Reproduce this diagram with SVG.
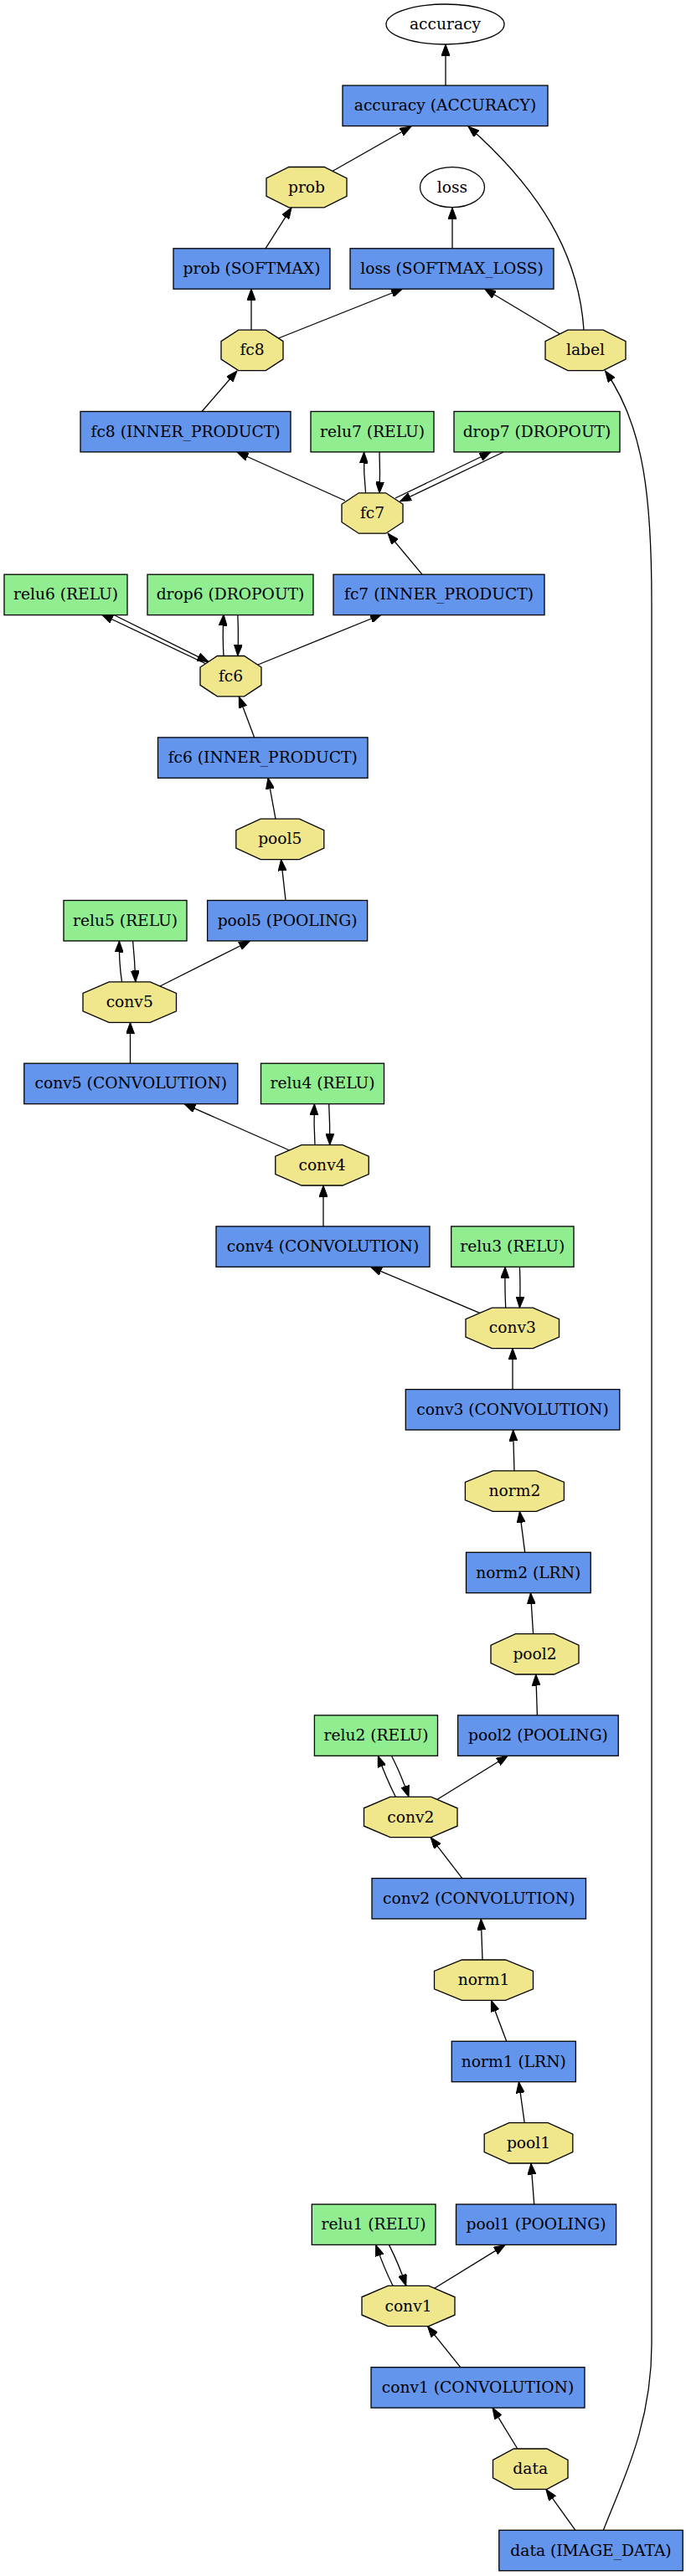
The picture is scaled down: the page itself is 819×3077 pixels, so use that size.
<svg xmlns="http://www.w3.org/2000/svg" width="819" height="3077" viewBox="0 0 819 3077">
<style>
.op{fill:#6495ed;stroke:#000;stroke-width:1.3}
.act{fill:#90ee90;stroke:#000;stroke-width:1.3}
.blob{fill:#f0e68c;stroke:#000;stroke-width:1.3}
.out{fill:#fff;stroke:#000;stroke-width:1.3}
text{font-family:"DejaVu Serif","Liberation Serif",serif;font-size:18.67px;text-anchor:middle;fill:#000}
.e{fill:none;stroke:#000;stroke-width:1.3}
</style>
<defs>
<marker id="ah" markerUnits="userSpaceOnUse" markerWidth="14" markerHeight="10" refX="13.5" refY="5" orient="auto">
<path d="M0,0 L13.5,5 L0,10 z" fill="#000" stroke="#000" stroke-width="1"/>
</marker>
</defs>
<rect x="0" y="0" width="819" height="3077" fill="#fff"/>
<g id="connectors">
<path class="e" marker-end="url(#ah)" d="M532,102.1 L532,53"/>
<path class="e" marker-end="url(#ah)" d="M396,205 L491,151"/>
<path class="e" marker-end="url(#ah)" d="M697,394 C692,320 660,240 559,151"/>
<path class="e" marker-end="url(#ah)" d="M317,296.8 L348,248"/>
<path class="e" marker-end="url(#ah)" d="M540,296.8 L540,248"/>
<path class="e" marker-end="url(#ah)" d="M300,394.2 L300,345"/>
<path class="e" marker-end="url(#ah)" d="M332.5,404 L480.6,345"/>
<path class="e" marker-end="url(#ah)" d="M668.6,399 L578.5,345"/>
<path class="e" marker-end="url(#ah)" d="M241,491.5 L283,443"/>
<path class="e" marker-end="url(#ah)" d="M720.4,3022.3 C740,2970 778,2900 778,2800 L778,720 C778,600 770,510 722.5,443"/>
<path class="e" marker-end="url(#ah)" d="M412,598 L283,540"/>
<path class="e" marker-end="url(#ah)" d="M436.6,589 Q434,565 434.6,540"/>
<path class="e" marker-end="url(#ah)" d="M453,540 Q454,565 453,589"/>
<path class="e" marker-end="url(#ah)" d="M472,595 L586,540"/>
<path class="e" marker-end="url(#ah)" d="M601,540 L477.5,599"/>
<path class="e" marker-end="url(#ah)" d="M504,686.2 L463,637"/>
<path class="e" marker-end="url(#ah)" d="M246,793 L121.5,734"/>
<path class="e" marker-end="url(#ah)" d="M135,734 L249,790.7"/>
<path class="e" marker-end="url(#ah)" d="M267,783.5 Q265.5,758 267,734"/>
<path class="e" marker-end="url(#ah)" d="M283.8,734 Q285,758 283.8,783.5"/>
<path class="e" marker-end="url(#ah)" d="M308,794 L455.5,734"/>
<path class="e" marker-end="url(#ah)" d="M303.7,880.9 L285.3,832"/>
<path class="e" marker-end="url(#ah)" d="M329,978.2 L320,929"/>
<path class="e" marker-end="url(#ah)" d="M341,1075.5 L335.6,1026.6"/>
<path class="e" marker-end="url(#ah)" d="M145.5,1172.9 Q142,1150 142.4,1124"/>
<path class="e" marker-end="url(#ah)" d="M158.6,1124 Q161,1148 161.8,1172.9"/>
<path class="e" marker-end="url(#ah)" d="M191,1178 L298.4,1124"/>
<path class="e" marker-end="url(#ah)" d="M155.5,1270.2 L155.5,1221.3"/>
<path class="e" marker-end="url(#ah)" d="M345.5,1374 L220,1318.6"/>
<path class="e" marker-end="url(#ah)" d="M376,1367.6 Q374.5,1343 375.4,1318.6"/>
<path class="e" marker-end="url(#ah)" d="M392.7,1318.6 Q394,1343 393.7,1367.6"/>
<path class="e" marker-end="url(#ah)" d="M386,1464.9 L386,1416"/>
<path class="e" marker-end="url(#ah)" d="M573.3,1568.7 L442.4,1513.3"/>
<path class="e" marker-end="url(#ah)" d="M603.7,1562.2 Q602.5,1538 603.1,1513.3"/>
<path class="e" marker-end="url(#ah)" d="M620.4,1513.3 Q621.5,1538 620.4,1562.2"/>
<path class="e" marker-end="url(#ah)" d="M612,1659.6 L612,1610.6"/>
<path class="e" marker-end="url(#ah)" d="M614,1756.9 L612.6,1708"/>
<path class="e" marker-end="url(#ah)" d="M626.7,1854.3 L620.4,1805.3"/>
<path class="e" marker-end="url(#ah)" d="M636.6,1951.6 L633.5,1902.7"/>
<path class="e" marker-end="url(#ah)" d="M641.4,2048.9 L639.8,2000"/>
<path class="e" marker-end="url(#ah)" d="M472.3,2146.3 Q461,2124 451.3,2097.3"/>
<path class="e" marker-end="url(#ah)" d="M467.5,2097.3 Q479,2120 488,2146.3"/>
<path class="e" marker-end="url(#ah)" d="M521.5,2149.7 L606.3,2097.3"/>
<path class="e" marker-end="url(#ah)" d="M551.8,2243.6 L514.1,2194.7"/>
<path class="e" marker-end="url(#ah)" d="M576,2341 L574.3,2292"/>
<path class="e" marker-end="url(#ah)" d="M604.7,2438.3 L586.4,2389.4"/>
<path class="e" marker-end="url(#ah)" d="M626.2,2535.6 L619.4,2486.7"/>
<path class="e" marker-end="url(#ah)" d="M637.7,2633 L634,2584"/>
<path class="e" marker-end="url(#ah)" d="M469,2730.3 Q458,2708 448.7,2681.4"/>
<path class="e" marker-end="url(#ah)" d="M464.4,2681.4 Q476,2704 484.8,2730.3"/>
<path class="e" marker-end="url(#ah)" d="M518.8,2733.3 L603.1,2681.4"/>
<path class="e" marker-end="url(#ah)" d="M549.7,2827.7 L510.5,2778.7"/>
<path class="e" marker-end="url(#ah)" d="M617.8,2925 L588,2876.1"/>
<path class="e" marker-end="url(#ah)" d="M687,3022.3 L651.8,2973.4"/>
</g>
<g id="accuracy"><ellipse class="out" cx="531.5" cy="29" rx="70.5" ry="24"/><text x="531.5" y="35">accuracy</text></g>
<g id="accuracy_layer"><rect class="op" x="409" y="102.1" width="245" height="48.4"/><text x="531.5" y="132.3">accuracy (ACCURACY)</text></g>
<g id="prob"><polygon class="blob" points="344.9,199.5 387.1,199.5 414,213 414,234.4 387.1,247.9 344.9,247.9 318,234.4 318,213"/><text x="366" y="229.7">prob</text></g>
<g id="loss"><ellipse class="out" cx="540" cy="223.7" rx="38.5" ry="24"/><text x="540" y="229.7">loss</text></g>
<g id="prob_layer"><rect class="op" x="207" y="296.8" width="187" height="48.4"/><text x="300.5" y="327">prob (SOFTMAX)</text></g>
<g id="loss_layer"><rect class="op" x="418" y="296.8" width="243" height="48.4"/><text x="539.5" y="327">loss (SOFTMAX_LOSS)</text></g>
<g id="fc8"><polygon class="blob" points="284.7,394.2 317.3,394.2 338,407.7 338,429.1 317.3,442.6 284.7,442.6 264,429.1 264,407.7"/><text x="301" y="424.4">fc8</text></g>
<g id="label"><polygon class="blob" points="677.9,394.2 720.1,394.2 747,407.7 747,429.1 720.1,442.6 677.9,442.6 651,429.1 651,407.7"/><text x="699" y="424.4">label</text></g>
<g id="fc8_layer"><rect class="op" x="96" y="491.5" width="251" height="48.4"/><text x="221.5" y="521.7">fc8 (INNER_PRODUCT)</text></g>
<g id="relu7_layer"><rect class="act" x="371" y="491.5" width="147" height="48.4"/><text x="444.5" y="521.7">relu7 (RELU)</text></g>
<g id="drop7_layer"><rect class="act" x="542" y="491.5" width="198" height="48.4"/><text x="641" y="521.7">drop7 (DROPOUT)</text></g>
<g id="fc7"><polygon class="blob" points="428.4,588.8 460.6,588.8 481,602.3 481,623.7 460.6,637.2 428.4,637.2 408,623.7 408,602.3"/><text x="444.5" y="619">fc7</text></g>
<g id="relu6_layer"><rect class="act" x="5" y="686.2" width="147" height="48.4"/><text x="78.5" y="716.4">relu6 (RELU)</text></g>
<g id="drop6_layer"><rect class="act" x="176" y="686.2" width="198" height="48.4"/><text x="275" y="716.4">drop6 (DROPOUT)</text></g>
<g id="fc7_layer"><rect class="op" x="398" y="686.2" width="252" height="48.4"/><text x="524" y="716.4">fc7 (INNER_PRODUCT)</text></g>
<g id="fc6"><polygon class="blob" points="259.4,783.5 291.6,783.5 312,797 312,818.4 291.6,831.9 259.4,831.9 239,818.4 239,797"/><text x="275.5" y="813.7">fc6</text></g>
<g id="fc6_layer"><rect class="op" x="188.5" y="880.9" width="250.5" height="48.4"/><text x="313.7" y="911.1">fc6 (INNER_PRODUCT)</text></g>
<g id="pool5"><polygon class="blob" points="311.2,978.2 357.4,978.2 386.8,991.7 386.8,1013.1 357.4,1026.6 311.2,1026.6 281.8,1013.1 281.8,991.7"/><text x="334.3" y="1008.4">pool5</text></g>
<g id="relu5_layer"><rect class="act" x="76" y="1075.5" width="147" height="48.4"/><text x="149.5" y="1105.7">relu5 (RELU)</text></g>
<g id="pool5_layer"><rect class="op" x="247.6" y="1075.5" width="191" height="48.4"/><text x="343.1" y="1105.7">pool5 (POOLING)</text></g>
<g id="conv5"><polygon class="blob" points="130.2,1172.9 179.2,1172.9 210.5,1186.4 210.5,1207.8 179.2,1221.3 130.2,1221.3 99,1207.8 99,1186.4"/><text x="154.7" y="1203.1">conv5</text></g>
<g id="conv5_layer"><rect class="op" x="28.8" y="1270.2" width="255" height="48.4"/><text x="156.3" y="1300.4">conv5 (CONVOLUTION)</text></g>
<g id="relu4_layer"><rect class="act" x="311.5" y="1270.2" width="147" height="48.4"/><text x="385" y="1300.4">relu4 (RELU)</text></g>
<g id="conv4"><polygon class="blob" points="360,1367.6 409,1367.6 440.2,1381.1 440.2,1402.5 409,1416 360,1416 328.8,1402.5 328.8,1381.1"/><text x="384.5" y="1397.8">conv4</text></g>
<g id="conv4_layer"><rect class="op" x="258" y="1464.9" width="255" height="48.4"/><text x="385.5" y="1495.1">conv4 (CONVOLUTION)</text></g>
<g id="relu3_layer"><rect class="act" x="538.7" y="1464.9" width="146.3" height="48.4"/><text x="611.8" y="1495.1">relu3 (RELU)</text></g>
<g id="conv3"><polygon class="blob" points="587.3,1562.2 636.3,1562.2 667.5,1575.7 667.5,1597.1 636.3,1610.6 587.3,1610.6 556,1597.1 556,1575.7"/><text x="611.8" y="1592.4">conv3</text></g>
<g id="conv3_layer"><rect class="op" x="484.3" y="1659.6" width="255.5" height="48.4"/><text x="612" y="1689.8">conv3 (CONVOLUTION)</text></g>
<g id="norm2"><polygon class="blob" points="588.4,1756.9 640.4,1756.9 673.4,1770.4 673.4,1791.8 640.4,1805.3 588.4,1805.3 555.4,1791.8 555.4,1770.4"/><text x="614.4" y="1787.1">norm2</text></g>
<g id="norm2_layer"><rect class="op" x="556.5" y="1854.3" width="148.7" height="48.4"/><text x="630.8" y="1884.5">norm2 (LRN)</text></g>
<g id="pool2"><polygon class="blob" points="615.4,1951.6 661.6,1951.6 691,1965.1 691,1986.5 661.6,2000 615.4,2000 586,1986.5 586,1965.1"/><text x="638.5" y="1981.8">pool2</text></g>
<g id="relu2_layer"><rect class="act" x="375.4" y="2048.9" width="147.1" height="48.4"/><text x="449" y="2079.1">relu2 (RELU)</text></g>
<g id="pool2_layer"><rect class="op" x="546.6" y="2048.9" width="191.6" height="48.4"/><text x="642.4" y="2079.1">pool2 (POOLING)</text></g>
<g id="conv2"><polygon class="blob" points="465.8,2146.3 514.8,2146.3 546,2159.8 546,2181.2 514.8,2194.7 465.8,2194.7 434.5,2181.2 434.5,2159.8"/><text x="490.3" y="2176.5">conv2</text></g>
<g id="conv2_layer"><rect class="op" x="444" y="2243.6" width="255.5" height="48.4"/><text x="571.7" y="2273.8">conv2 (CONVOLUTION)</text></g>
<g id="norm1"><polygon class="blob" points="551.5,2341 603.5,2341 636.5,2354.5 636.5,2375.9 603.5,2389.4 551.5,2389.4 518.5,2375.9 518.5,2354.5"/><text x="577.5" y="2371.2">norm1</text></g>
<g id="norm1_layer"><rect class="op" x="539.3" y="2438.3" width="148.1" height="48.4"/><text x="613.3" y="2468.5">norm1 (LRN)</text></g>
<g id="pool1"><polygon class="blob" points="607.8,2535.6 654.2,2535.6 683.8,2549.1 683.8,2570.5 654.2,2584 607.8,2584 578.2,2570.5 578.2,2549.1"/><text x="631" y="2565.8">pool1</text></g>
<g id="relu1_layer"><rect class="act" x="372.3" y="2633" width="147.7" height="48.4"/><text x="446.1" y="2663.2">relu1 (RELU)</text></g>
<g id="pool1_layer"><rect class="op" x="544.5" y="2633" width="191.1" height="48.4"/><text x="640" y="2663.2">pool1 (POOLING)</text></g>
<g id="conv1"><polygon class="blob" points="463.1,2730.3 511.9,2730.3 543,2743.8 543,2765.2 511.9,2778.7 463.1,2778.7 432,2765.2 432,2743.8"/><text x="487.5" y="2760.5">conv1</text></g>
<g id="conv1_layer"><rect class="op" x="443" y="2827.7" width="255" height="48.4"/><text x="570.5" y="2857.9">conv1 (CONVOLUTION)</text></g>
<g id="data"><polygon class="blob" points="613.5,2925 652.9,2925 678,2938.5 678,2959.9 652.9,2973.4 613.5,2973.4 588.5,2959.9 588.5,2938.5"/><text x="633.2" y="2955.2">data</text></g>
<g id="data_layer"><rect class="op" x="595.8" y="3022.3" width="219.4" height="48.4"/><text x="705.5" y="3052.5">data (IMAGE_DATA)</text></g>
</svg>
